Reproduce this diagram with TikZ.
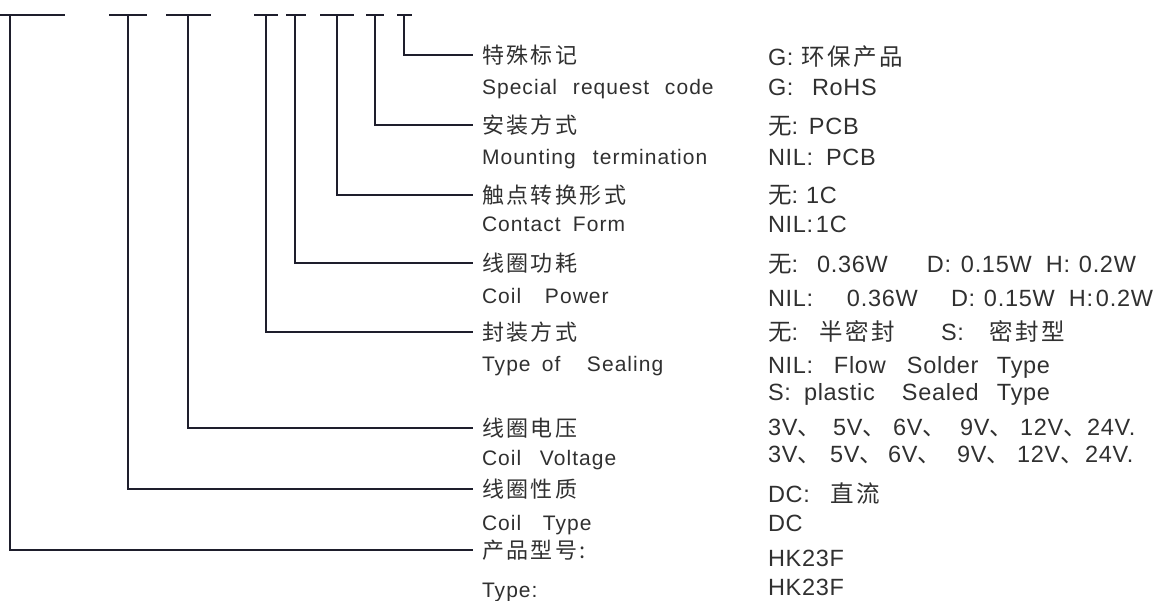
\documentclass[tikz,border=0pt]{standalone}
\usepackage{fontspec}
\newfontfamily\latL[LetterSpace=5]{Liberation Sans}
\newfontfamily\latR[LetterSpace=3]{Liberation Sans}
\newfontfamily\cjk[LetterSpace=11]{Noto Sans CJK SC}
\newcommand\zh[1]{{\cjk #1}}
\newcommand\seg[2]{\makebox[#1pt][l]{#2}}
\definecolor{linec}{HTML}{1E1E2C}
\definecolor{txt}{HTML}{303030}
\tikzset{
  lead/.style={line width=2.4pt, draw=linec},
  tbar/.style={line width=2.2pt, draw=linec},
  cnL/.style={anchor=west, inner xsep=9pt, inner ysep=0pt, outer sep=0pt,
    text height=18.5pt, text depth=1.5pt, text=txt, font=\cjk\fontsize{22}{26}\selectfont},
  enL/.style={anchor=base west, inner sep=0pt, outer sep=0pt, text=txt,
    font=\latL\fontsize{21}{25}\selectfont},
  valR/.style={anchor=base west, inner sep=0pt, outer sep=0pt, text=txt,
    font=\latR\fontsize{23.5}{27}\selectfont},
}
\begin{document}
\begin{tikzpicture}[x=1pt,y=-1pt]
\useasboundingbox (0,0) rectangle (1157,601);
% T bars
\coordinate (a1) at (0,15);   \coordinate (b1) at (65,15);  \coordinate (v1) at (10,15);
\coordinate (a2) at (109,15); \coordinate (b2) at (147,15); \coordinate (v2) at (128,15);
\coordinate (a3) at (166,15); \coordinate (b3) at (211,15); \coordinate (v3) at (188,15);
\coordinate (a4) at (254,15); \coordinate (b4) at (278,15); \coordinate (v4) at (266,15);
\coordinate (a5) at (286,15); \coordinate (b5) at (306,15); \coordinate (v5) at (295,15);
\coordinate (a6) at (320,15); \coordinate (b6) at (354,15); \coordinate (v6) at (337,15);
\coordinate (a7) at (366,15); \coordinate (b7) at (384,15); \coordinate (v7) at (375,15);
\coordinate (a8) at (397,15); \coordinate (b8) at (412,15); \coordinate (v8) at (404,15);
\foreach \i in {1,...,8} { \draw[tbar] (a\i) -- (b\i); }

% left Chinese labels
\node[cnL] (cn1) at (473,55)  {特殊标记};
\node[cnL] (cn2) at (473,125) {安装方式};
\node[cnL] (cn3) at (473,195) {触点转换形式};
\node[cnL] (cn4) at (473,263) {线圈功耗};
\node[cnL] (cn5) at (473,332) {封装方式};
\node[cnL] (cn6) at (473,428) {线圈电压};
\node[cnL] (cn7) at (473,489) {线圈性质};
\node[cnL] (cn8) at (473,550) {产品型号:};

% connectors
\draw[lead] (v8) |- (cn1.west);
\draw[lead] (v7) |- (cn2.west);
\draw[lead] (v6) |- (cn3.west);
\draw[lead] (v5) |- (cn4.west);
\draw[lead] (v4) |- (cn5.west);
\draw[lead] (v3) |- (cn6.west);
\draw[lead] (v2) |- (cn7.west);
\draw[lead] (v1) |- (cn8.west);

% left English labels
\node[enL] (en1) at (482,95)  {\seg{91}{Special}\seg{92}{request}code};
\node[enL] (en2) at (482,165) {\seg{111}{Mounting}termination};
\node[enL] (en3) at (482,232) {\seg{91}{Contact}Form};
\node[enL] (en4) at (482,304) {\seg{63}{Coil}Power};
\node[enL] (en5) at (482,372) {\seg{60}{Type}\seg{45}{of}Sealing};
\node[enL] (en6) at (482,465) {\seg{58}{Coil}Voltage};
\node[enL] (en7) at (482,530) {\seg{61}{Coil}Type};
\node[enL] (en8) at (482,597) {Type:};

% right values
\node[valR] (r1a) at (768,66)  {\seg{33}{G:}\zh{环保产品}};
\node[valR] (r1b) at (768,96)  {\seg{44}{G:}RoHS};
\node[valR] (r2a) at (768,135) {\seg{41}{\zh{无}:}PCB};
\node[valR] (r2b) at (768,166) {\seg{58}{NIL:}PCB};
\node[valR] (r3a) at (768,204) {\seg{38}{\zh{无}:}1C};
\node[valR] (r3b) at (768,233) {\seg{48}{NIL:}1C};
\node[valR] (r4a) at (768,273) {\seg{49}{\zh{无}:}\seg{110}{0.36W}\seg{34}{D:}\seg{85}{0.15W}\seg{33}{H:}0.2W};
\node[valR] (r4b) at (768,307) {\seg{79}{NIL:}\seg{104}{0.36W}\seg{33}{D:}\seg{85}{0.15W}\seg{27}{H:}0.2W};
\node[valR] (r5a) at (768,341) {\seg{51}{\zh{无}:}\seg{122}{\zh{半密封}}\seg{48}{S:}\zh{密封型}};
\node[valR] (r5b) at (768,374) {\seg{66}{NIL:}\seg{73}{Flow}\seg{90}{Solder}Type};
\node[valR] (r5c) at (768,401) {\seg{36}{S:}\seg{98}{plastic}\seg{95}{Sealed}Type};
\node[valR] (r6a) at (768,436) {\seg{65}{3V\zh{、}}\seg{60}{5V\zh{、}}\seg{67}{6V\zh{、}}\seg{60}{9V\zh{、}}\seg{67}{12V\zh{、}}24V.};
\node[valR] (r6b) at (768,463) {\seg{62}{3V\zh{、}}\seg{58}{5V\zh{、}}\seg{69}{6V\zh{、}}\seg{60}{9V\zh{、}}\seg{68}{12V\zh{、}}24V.};
\node[valR] (r7a) at (768,502) {\seg{62}{DC:}\zh{直流}};
\node[valR] (r7b) at (768,531) {DC};
\node[valR] (r8a) at (768,566) {HK23F};
\node[valR] (r8b) at (768,595) {HK23F};
\end{tikzpicture}
\end{document}
